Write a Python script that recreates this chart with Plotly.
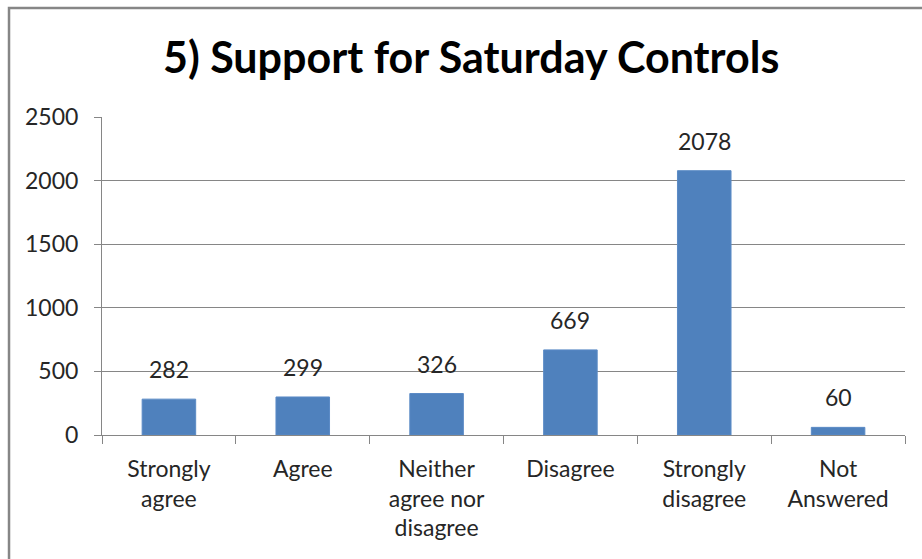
import plotly.graph_objects as go

categories = ["Strongly<br>agree", "Agree", "Neither<br>agree nor<br>disagree", "Disagree", "Strongly<br>disagree", "Not<br>Answered"]
values = [282, 299, 326, 669, 2078, 60]
y_ticks = [0, 500, 1000, 1500, 2000, 2500]
title = "5) Support for Saturday Controls"

FONT = "Lato"
TXT = "#262626"
GRID = "#868686"

fig = go.Figure()
fig.add_trace(go.Bar(
    x=categories, y=values,
    marker=dict(color="#4F81BD", line=dict(color="#5B8BC6", width=1)),
    width=0.4,
    hoverinfo="x+y",
))

for c, v in zip(categories, values):
    fig.add_annotation(x=c, y=v, text=str(v), showarrow=False,
                       yanchor="bottom", yshift=14,
                       font=dict(family=FONT, size=23, color=TXT))

fig.update_layout(
    width=922, height=559,
    margin=dict(l=102, r=17, t=117, b=124),
    paper_bgcolor="white", plot_bgcolor="white",
    showlegend=False,
    title=dict(text="<b>" + title + "</b>", x=0.511, xanchor="center",
               y=0.897, yanchor="middle",
               font=dict(family=FONT, size=43, color="black")),
    font=dict(family=FONT, size=23, color=TXT),
    xaxis=dict(
        type="category", tickson="boundaries", ticks="outside", ticklen=8,
        tickcolor=GRID, showline=True, linecolor=GRID, linewidth=1,
        showgrid=False, tickfont=dict(family=FONT, size=23, color=TXT),
        ticklabelstandoff=13,
    ),
    yaxis=dict(
        range=[0, 2500], tickvals=y_ticks, ticks="outside", ticklen=7,
        tickcolor=GRID, showline=True, linecolor=GRID, linewidth=1,
        showgrid=True, gridcolor=GRID, gridwidth=1, zeroline=False,
        tickfont=dict(family=FONT, size=23, color=TXT),
        ticklabelstandoff=11,
    ),
    shapes=[dict(type="rect", xref="paper", yref="paper",
                 x0=-0.1158, x1=1.2, y0=-0.5, y1=1.3428,
                 line=dict(color="#868686", width=2.5), layer="below")],
)

fig.write_html("out.html")
